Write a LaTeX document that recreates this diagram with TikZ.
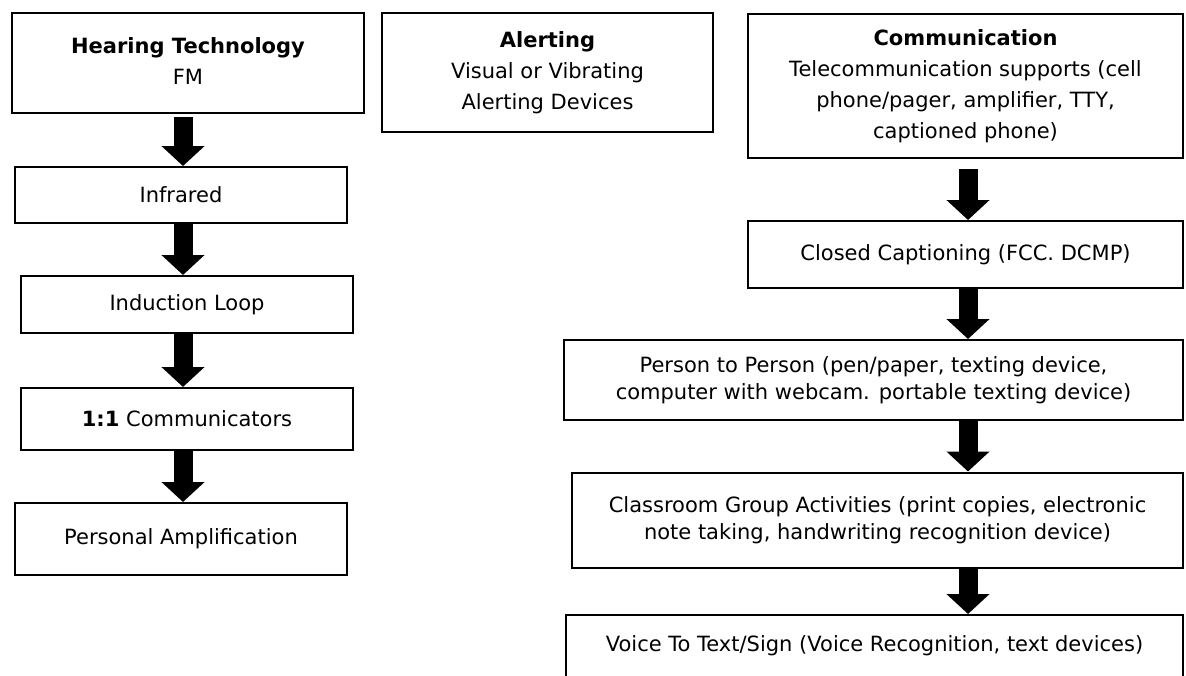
\documentclass[tikz,border=0pt]{standalone}
\usepackage{fontspec}
\setmainfont{DejaVu Sans}
\usetikzlibrary{arrows.meta}
\begin{document}
\begin{tikzpicture}[x=1pt,y=-1pt,
  box/.style={draw=black,line width=2pt,fill=white,inner sep=0pt,align=center,
    font=\fontsize{21}{27}\selectfont},
  headbox/.style={box,font=\fontsize{21}{31}\selectfont},
  flowarrow/.style={line width=19pt,-{Triangle[width=42pt,length=20pt]}},
]
\useasboundingbox[fill=white] (0,0) rectangle (1186,675);
% left column
\node[headbox,minimum width=352pt,minimum height=100pt] (hear) at (188,63) {\raisebox{4pt}{\begin{tabular}{@{}c@{}}\textbf{Hearing Technology}\\FM\end{tabular}}};
\node[box,minimum width=332pt,minimum height=56pt] (infra) at (181,195) {Infrared};
\node[box,minimum width=332pt,minimum height=57pt] (induct) at (187,304.5) {Induction Loop};
\node[box,minimum width=332pt,minimum height=62pt] (one) at (187,419) {\textbf{1:1} Communicators};
\node[box,minimum width=332pt,minimum height=72pt] (amp) at (181,539) {Personal Amplification};
% middle
\node[headbox,minimum width=331pt,minimum height=119pt] (alert) at (547.5,72.5) {\textbf{Alerting}\\Visual or Vibrating\\Alerting Devices};
% right column
\node[headbox,minimum width=435pt,minimum height=144pt] (comm) at (965.5,86) {\textbf{Communication}\\Telecommunication supports (cell\\phone/pager, amplifier, TTY,\\captioned phone)};
\node[box,minimum width=435pt,minimum height=67pt] (cc) at (965.5,254.5) {Closed Captioning (FCC. DCMP)};
\node[box,minimum width=619pt,minimum height=80pt] (p2p) at (873.5,380) {Person to Person (pen/paper, texting device,\\computer with webcam. portable texting device)};
\node[box,minimum width=611pt,minimum height=95pt] (class) at (877.5,520) {Classroom Group Activities (print copies, electronic\\note taking, handwriting recognition device)};
\node[box,minimum width=617pt,minimum height=62pt] (voice) at (874.5,646) {Voice To Text/Sign (Voice Recognition, text devices)};
% arrow columns
\coordinate (colL) at (183,0);
\coordinate (colR) at (968,0);
\draw[flowarrow,shorten <=3pt] (colL |- hear.south) -- (colL |- infra.north);
\draw[flowarrow] (colL |- infra.south) -- (colL |- induct.north);
\draw[flowarrow] (colL |- induct.south) -- (colL |- one.north);
\draw[flowarrow] (colL |- one.south) -- (colL |- amp.north);
\draw[flowarrow,shorten <=10pt] (colR |- comm.south) -- (colR |- cc.north);
\draw[flowarrow] (colR |- cc.south) -- (colR |- p2p.north);
\draw[flowarrow] (colR |- p2p.south) -- (colR |- class.north);
\draw[flowarrow] (colR |- class.south) -- (colR |- voice.north);
\end{tikzpicture}
\end{document}
